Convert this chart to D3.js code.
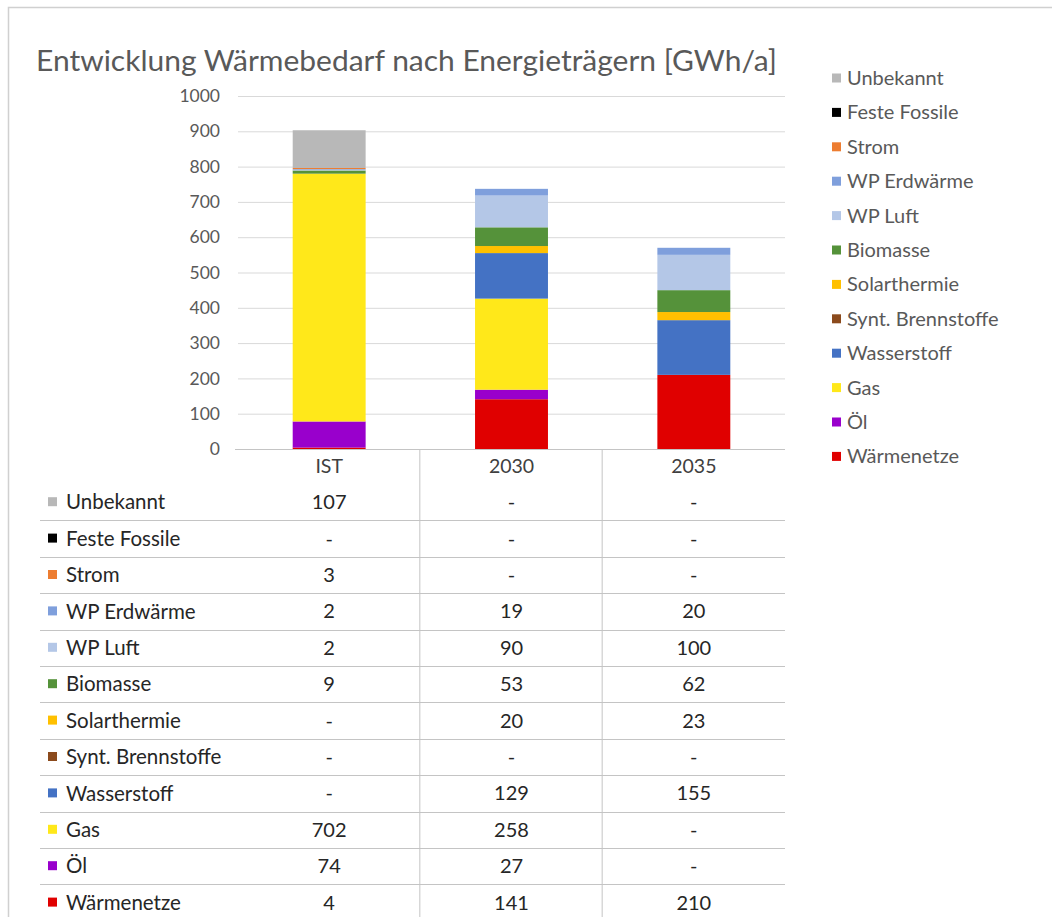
<!DOCTYPE html>
<html>
<head>
<meta charset="utf-8">
<script src="https://cdn.jsdelivr.net/npm/d3@7"></script>
<style>
  body { margin: 0; background: #fff; }
  svg { display: block; font-family: Lato, "Open Sans", sans-serif; }
</style>
</head>
<body>
<svg id="chart" width="1052" height="917"></svg>
<script>
// categories (columns)
const categories = ['IST', '2030', '2035'];

// series, listed bottom-to-top of the stack
const seriesNames = ['Wärmenetze', 'Öl', 'Gas', 'Wasserstoff', 'Synt. Brennstoffe', 'Solarthermie',
  'Biomasse', 'WP Luft', 'WP Erdwärme', 'Strom', 'Feste Fossile', 'Unbekannt'];

const seriesColors = ['#e00000', '#9900cc', '#ffe81a', '#4472c4', '#8b4a1c', '#ffc000',
  '#55923a', '#b4c7e7', '#7f9fdc', '#ed7d31', '#000000', '#b8b8b8'];

// values per series, order matches categories
const waermenetze = [4, 141, 210];
const oel = [74, 27, 0];
const gas = [702, 258, 0];
const wasserstoff = [0, 129, 155];
const syntBrennstoffe = [0, 0, 0];
const solarthermie = [0, 20, 23];
const biomasse = [9, 53, 62];
const wpLuft = [2, 90, 100];
const wpErdwaerme = [2, 19, 20];
const strom = [3, 0, 0];
const festeFossile = [0, 0, 0];
const unbekannt = [107, 0, 0];

const seriesValues = [waermenetze, oel, gas, wasserstoff, syntBrennstoffe, solarthermie,
  biomasse, wpLuft, wpErdwaerme, strom, festeFossile, unbekannt];

const yTicks = [0, 100, 200, 300, 400, 500, 600, 700, 800, 900, 1000];

const svg = d3.select('#chart');
const textColor = '#595959';

// outer frame
svg.append('rect')
  .attr('x', 8.5).attr('y', 7.5)
  .attr('width', 1100).attr('height', 1000)
  .attr('fill', 'none').attr('stroke', '#d0d0d0').attr('stroke-width', 1.5);

// title
svg.append('text')
  .attr('x', 36).attr('y', 71)
  .attr('font-size', 28).attr('fill', textColor)
  .attr('textLength', 741).attr('lengthAdjust', 'spacingAndGlyphs')
  .text('Entwicklung Wärmebedarf nach Energieträgern [GWh/a]');

const plot = { left: 238, right: 785, top: 96, bottom: 449 };

const x = d3.scaleBand().domain(categories)
  .range([plot.left, plot.right]).paddingInner(0.6).paddingOuter(0.3);
const y = d3.scaleLinear().domain([0, 1000]).range([plot.bottom, plot.top]);

// gridlines
svg.append('g').selectAll('line')
  .data(yTicks.filter((t) => t > 0))
  .join('line')
  .attr('x1', plot.left).attr('x2', plot.right)
  .attr('y1', (d) => y(d) + 0.5).attr('y2', (d) => y(d) + 0.5)
  .attr('stroke', '#d9d9d9');

// y axis labels
const yAxis = svg.append('g')
  .attr('transform', `translate(${plot.left - 18},0)`)
  .call(d3.axisLeft(y).tickValues(yTicks).tickFormat(d3.format('d')).tickSize(0).tickPadding(0));
yAxis.select('.domain').remove();
yAxis.selectAll('text').attr('font-size', 17.5).attr('fill', textColor)
  .attr('font-family', 'Lato, sans-serif');

// stacked bars
const rows = categories.map((c, i) => {
  const row = { category: c };
  seriesNames.forEach((s, j) => { row[s] = seriesValues[j][i]; });
  return row;
});
const stacked = d3.stack().keys(seriesNames)(rows);

svg.append('g').selectAll('g')
  .data(stacked)
  .join('g')
  .attr('fill', (d, i) => seriesColors[i])
  .selectAll('rect')
  .data((d) => d)
  .join('rect')
  .attr('x', (d) => x(d.data.category))
  .attr('width', x.bandwidth())
  .attr('y', (d) => y(d[1]))
  .attr('height', (d) => y(d[0]) - y(d[1]));

// data table
const tableTop = plot.bottom;
const rowH = 36.4;
const headerH = 35;
const tableLeft = 40;
const lineColor = '#c4c4c4';

// axis line / table top
svg.append('line')
  .attr('x1', plot.left - 3).attr('x2', plot.right)
  .attr('y1', tableTop + 0.5).attr('y2', tableTop + 0.5)
  .attr('stroke', lineColor);

// column separators
const tableBottom = 917;
svg.append('g').selectAll('line')
  .data(categories.slice(1))
  .join('line')
  .attr('x1', (d) => x(d) - x.step() * x.paddingInner() / 2 - 0.5)
  .attr('x2', (d) => x(d) - x.step() * x.paddingInner() / 2 - 0.5)
  .attr('y1', tableTop).attr('y2', tableBottom)
  .attr('stroke', lineColor);

// category headers
svg.append('g').selectAll('text')
  .data(categories)
  .join('text')
  .attr('x', (d) => x(d) + x.bandwidth() / 2)
  .attr('y', tableTop + 17)
  .attr('dy', '0.35em')
  .attr('text-anchor', 'middle')
  .attr('font-size', 19.5).attr('fill', '#404040')
  .text((d) => d);

// table rows: top-to-bottom = reverse of stack order
const tableOrder = d3.range(seriesNames.length).reverse();
const rowY = (k) => tableTop + headerH + rowH * k + rowH / 2;

// row separators
svg.append('g').selectAll('line')
  .data(d3.range(1, tableOrder.length))
  .join('line')
  .attr('x1', tableLeft).attr('x2', plot.right)
  .attr('y1', (k) => Math.round(tableTop + headerH + rowH * k) + 0.5)
  .attr('y2', (k) => Math.round(tableTop + headerH + rowH * k) + 0.5)
  .attr('stroke', lineColor);

const tableRows = svg.append('g').selectAll('g')
  .data(tableOrder)
  .join('g')
  .attr('transform', (j, k) => `translate(0,${rowY(k)})`);

tableRows.append('rect')
  .attr('x', 48).attr('y', -5).attr('width', 9).attr('height', 9)
  .attr('fill', (j) => seriesColors[j]);

tableRows.append('text')
  .attr('x', 66).attr('dy', '0.35em')
  .attr('font-size', 20.5).attr('fill', '#262626')
  .text((j) => seriesNames[j]);

tableRows.selectAll('text.val')
  .data((j) => categories.map((c, i) => ({ c, v: seriesValues[j][i] })))
  .join('text')
  .attr('class', 'val')
  .attr('x', (d) => x(d.c) + x.bandwidth() / 2)
  .attr('dy', '0.35em')
  .attr('text-anchor', 'middle')
  .attr('font-size', 20).attr('fill', '#262626')
  .text((d) => (d.v === 0 ? '-' : d.v));

// legend, top-to-bottom = reverse of stack order
const legend = svg.append('g').selectAll('g')
  .data(tableOrder)
  .join('g')
  .attr('transform', (j, k) => `translate(832,${78 + k * 34.4})`);

legend.append('rect')
  .attr('x', 0).attr('y', -4.5).attr('width', 9).attr('height', 9)
  .attr('fill', (j) => seriesColors[j]);

legend.append('text')
  .attr('x', 15).attr('dy', '0.35em')
  .attr('font-size', 20).attr('fill', textColor)
  .text((j) => seriesNames[j]);
</script>
</body>
</html>
